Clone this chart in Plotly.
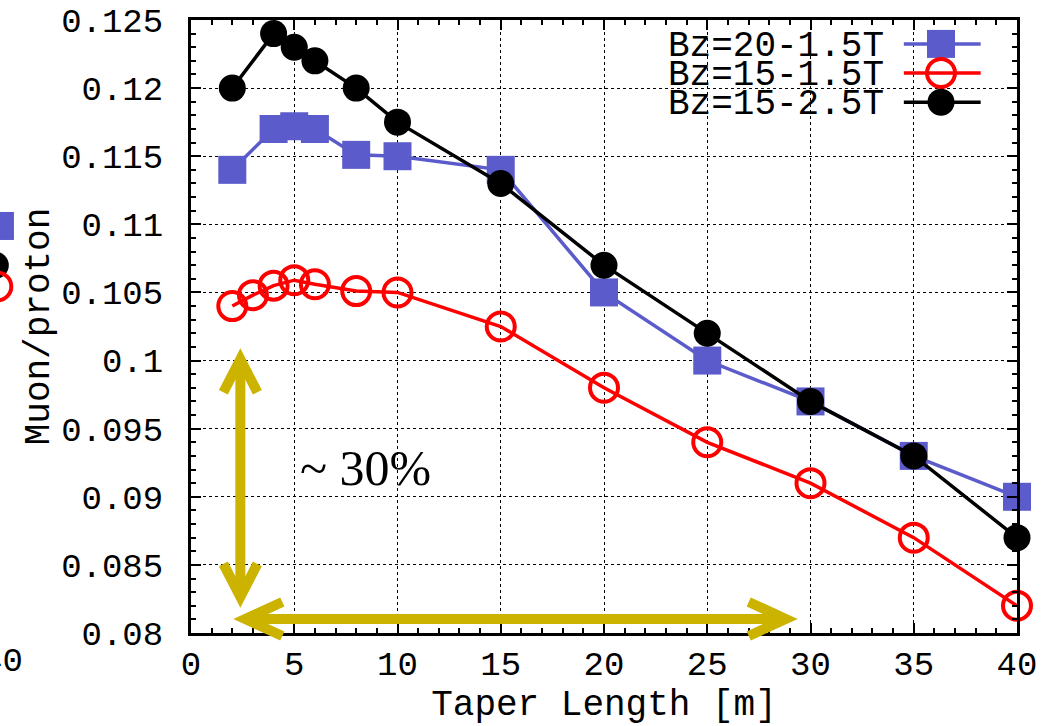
import plotly.graph_objects as go

# ---------------- data ----------------
taper_bz20_15 = [2, 4, 5, 6, 8, 10, 15, 20, 25, 30, 35, 40]
muon_bz20_15 = [0.114, 0.117, 0.1172, 0.117, 0.1151, 0.115, 0.114, 0.105, 0.100, 0.097, 0.093, 0.090]

taper_bz15_15 = [2, 3, 4, 5, 6, 8, 10, 15, 20, 25, 30, 35, 40]
muon_bz15_15 = [0.104, 0.1048, 0.1055, 0.1059, 0.1056, 0.1051, 0.105, 0.1025, 0.098, 0.094, 0.091, 0.087, 0.082]

taper_bz15_25 = [2, 4, 5, 6, 8, 10, 15, 20, 25, 30, 35, 40]
muon_bz15_25 = [0.120, 0.124, 0.123, 0.122, 0.120, 0.1175, 0.113, 0.107, 0.102, 0.097, 0.093, 0.087]

series_names = ["Bz=20-1.5T", "Bz=15-1.5T", "Bz=15-2.5T"]

x_tickvals = [0, 5, 10, 15, 20, 25, 30, 35, 40]
x_ticktext = ["0", "5", "10", "15", "20", "25", "30", "35", "40"]
y_tickvals = [0.08, 0.085, 0.09, 0.095, 0.1, 0.105, 0.11, 0.115, 0.12, 0.125]
y_ticktext = ["0.08", "0.085", "0.09", "0.095", "0.1", "0.105", "0.11", "0.115", "0.12", "0.125"]

X_RANGE = [0, 40]
Y_RANGE = [0.08, 0.125]

# annotation arrows (data units)
V_ARROW_X = 2.39
V_ARROW_Y = [0.08265, 0.1001]
H_ARROW_Y = 0.08103
H_ARROW_X = [2.63, 28.8]
ARROW_TEXT = "~ 30%"

# ---------------- styles ----------------
BLUE = "#5b5bcb"
RED = "#ff0000"
BLACK = "#000000"
GOLD = "#cbb300"
MONO = "Liberation Mono, Courier New, monospace"
SERIF = "Liberation Serif, Times New Roman, serif"
FS = 34
FS_TITLE = 36
FS_KEY = 36


def px_x(x):
    return (x - X_RANGE[0]) / (X_RANGE[1] - X_RANGE[0])


def px_y(y):
    return (y - Y_RANGE[0]) / (Y_RANGE[1] - Y_RANGE[0])


fig = go.Figure()

fig.add_trace(go.Scatter(
    x=taper_bz20_15, y=muon_bz20_15, mode="lines+markers", name=series_names[0],
    line=dict(color=BLUE, width=3.5),
    marker=dict(symbol="square", size=28, color=BLUE),
    cliponaxis=False, showlegend=False))
fig.add_trace(go.Scatter(
    x=taper_bz15_15, y=muon_bz15_15, mode="lines+markers", name=series_names[1],
    line=dict(color=RED, width=3.5),
    marker=dict(symbol="circle-open", size=28, color=RED, line=dict(width=4, color=RED)),
    cliponaxis=False, showlegend=False))
fig.add_trace(go.Scatter(
    x=taper_bz15_25, y=muon_bz15_25, mode="lines+markers", name=series_names[2],
    line=dict(color=BLACK, width=3.5),
    marker=dict(symbol="circle", size=27, color=BLACK),
    cliponaxis=False, showlegend=False))

shapes = []
# white key background hiding the grid
shapes.append(dict(type="rect", xref="paper", yref="paper", x0=0.628, x1=0.997, y0=0.842, y1=0.997,
                   fillcolor="white", line=dict(width=0), layer="between"))

# ---------------- manual key (text left of sample, gnuplot style) ----------------
key_rows = [0.961, 0.9135, 0.866]
key_line_x = [0.863, 0.956]
key_mark_x = 0.908
key_text_x = 0.841
key_colors = [BLUE, RED, BLACK]
key_marks = [
    dict(type="rect", x0=-14, x1=14, y0=-14, y1=14, fillcolor=BLUE, line=dict(width=0)),
    dict(type="circle", x0=-14, x1=14, y0=-14, y1=14, fillcolor="white", line=dict(width=4, color=RED)),
    dict(type="circle", x0=-13.5, x1=13.5, y0=-13.5, y1=13.5, fillcolor=BLACK, line=dict(width=0)),
]
for name, ry, col, mk in zip(series_names, key_rows, key_colors, key_marks):
    shapes.append(dict(type="line", xref="paper", yref="paper", x0=key_line_x[0], x1=key_line_x[1],
                       y0=ry, y1=ry, line=dict(color=col, width=3.5), layer="above"))
    m = dict(xref="paper", yref="paper", xsizemode="pixel", ysizemode="pixel",
             xanchor=key_mark_x, yanchor=ry, layer="above")
    m.update(mk)
    shapes.append(m)
    if col == RED:
        # open circle: redraw the line segment across its inside
        shapes.append(dict(type="line", xref="paper", yref="paper", xsizemode="pixel", ysizemode="pixel",
                           xanchor=key_mark_x, yanchor=ry, x0=-14, x1=14, y0=0, y1=0,
                           line=dict(color=RED, width=3.5), layer="above"))
    fig.add_annotation(xref="paper", yref="paper", x=key_text_x, y=ry - 0.004, text=name,
                       showarrow=False, xanchor="right", yanchor="middle",
                       font=dict(family=MONO, size=FS_KEY, color="black"))

# double arrows
aw = 10
shapes.append(dict(type="line", xref="paper", yref="paper",
                   x0=px_x(V_ARROW_X), x1=px_x(V_ARROW_X), y0=px_y(V_ARROW_Y[0]), y1=px_y(V_ARROW_Y[1]),
                   line=dict(color=GOLD, width=aw), layer="above"))
shapes.append(dict(type="line", xref="paper", yref="paper",
                   x0=px_x(H_ARROW_X[0]), x1=px_x(H_ARROW_X[1]), y0=px_y(H_ARROW_Y), y1=px_y(H_ARROW_Y),
                   line=dict(color=GOLD, width=aw), layer="above"))
heads = [
    (V_ARROW_X, V_ARROW_Y[1], "M -17,-33 L 0,0 L 17,-33"),
    (V_ARROW_X, V_ARROW_Y[0], "M -17,33 L 0,0 L 17,33"),
    (H_ARROW_X[0], H_ARROW_Y, "M 37,17 L 0,0 L 37,-17"),
    (H_ARROW_X[1], H_ARROW_Y, "M -37,17 L 0,0 L -37,-17"),
]
for hx, hy, path in heads:
    shapes.append(dict(type="path", xref="paper", yref="paper", xsizemode="pixel", ysizemode="pixel",
                       xanchor=px_x(hx), yanchor=px_y(hy), path=path,
                       line=dict(color=GOLD, width=aw), layer="above"))

# partial marks cropped at the left edge of the original figure
shapes.append(dict(type="rect", xref="paper", yref="paper", xsizemode="pixel", ysizemode="pixel",
                   xanchor=-0.2313, yanchor=0.664, x0=-14, x1=14, y0=-14, y1=14,
                   fillcolor=BLUE, line=dict(width=0)))
shapes.append(dict(type="circle", xref="paper", yref="paper", xsizemode="pixel", ysizemode="pixel",
                   xanchor=-0.2369, yanchor=0.600, x0=-13.5, x1=13.5, y0=-13.5, y1=13.5,
                   fillcolor=BLACK, line=dict(width=0)))
shapes.append(dict(type="circle", xref="paper", yref="paper", xsizemode="pixel", ysizemode="pixel",
                   xanchor=-0.2345, yanchor=0.5653, x0=-14, x1=14, y0=-14, y1=14,
                   fillcolor="rgba(0,0,0,0)", line=dict(width=4, color=RED)))

fig.add_annotation(xref="paper", yref="paper", x=-0.2006, y=-0.047, text="40", showarrow=False,
                   xanchor="right", yanchor="middle", font=dict(family=MONO, size=FS, color="black"))

fig.add_annotation(x=8.46, y=0.0921, text=ARROW_TEXT, showarrow=False,
                   font=dict(family=SERIF, size=50, color="black"))

axis_common = dict(
    showline=True, linewidth=3, linecolor="black", mirror="allticks",
    ticks="inside", ticklen=10, tickwidth=2, tickcolor="black",
    showgrid=True, gridcolor="black", gridwidth=1, griddash="3px,3px",
    zeroline=False, tickfont=dict(family=MONO, size=FS, color="black"),
    automargin=False,
)

fig.update_layout(
    width=1057, height=726,
    margin=dict(l=191, r=40, t=20, b=93),
    paper_bgcolor="white", plot_bgcolor="white",
    xaxis=dict(range=X_RANGE, tickvals=x_tickvals, ticktext=x_ticktext,
               minor=dict(ticks="inside", dtick=1, ticklen=5, tickwidth=2, tickcolor="black", showgrid=False),
               ticklabelstandoff=-2,
               title=dict(text="Taper Length [m]", font=dict(family=MONO, size=FS_TITLE, color="black"),
                          standoff=26),
               **axis_common),
    yaxis=dict(range=Y_RANGE, tickvals=y_tickvals, ticktext=y_ticktext,
               minor=dict(ticks="inside", dtick=0.001, ticklen=5, tickwidth=2, tickcolor="black", showgrid=False),
               ticklabelstandoff=18,
               title=dict(text="Muon/proton", font=dict(family=MONO, size=FS_TITLE, color="black"), standoff=1),
               **axis_common),
    shapes=shapes,
    showlegend=False,
)

fig.write_html("out.html", config={"displayModeBar": False},
               post_script="document.body.style.margin='0px';document.body.style.overflow='hidden';")
